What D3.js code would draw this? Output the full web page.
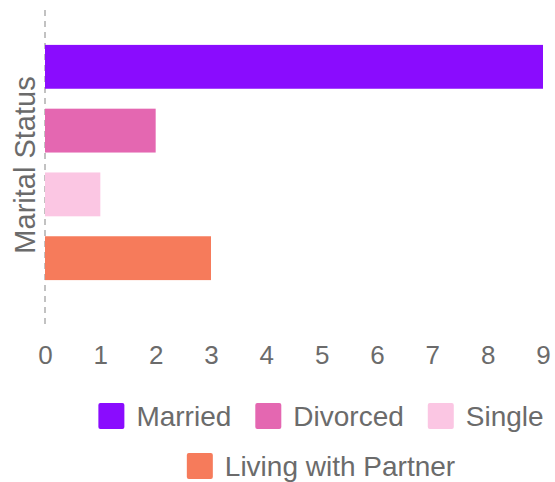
<!DOCTYPE html>
<html>
<head>
<meta charset="utf-8">
<script src="https://cdn.jsdelivr.net/npm/d3@7"></script>
<style>
  body { margin: 0; background: #fff; }
  text { font-family: "Liberation Sans", Arial, sans-serif; fill: #6b6b6b; }
</style>
</head>
<body>
<svg id="viz"></svg>
<script>
const width = 555, height = 482;

// data
const categories = ["Married", "Divorced", "Single", "Living with Partner"];
const counts = [9, 2, 1, 3];
const colors = ["#8a0cfe", "#e467b1", "#fbc6e3", "#f67b5b"];
const xTicks = [0, 1, 2, 3, 4, 5, 6, 7, 8, 9];

const svg = d3.select("#viz")
    .attr("width", width)
    .attr("height", height);

const x = d3.scaleLinear().domain([0, 9]).range([45, 543]);
const y = d3.scaleBand().domain(categories).range([13, 312])
    .paddingInner(0.3125).paddingOuter(0.5);

// dashed axis at zero
svg.append("line")
    .attr("x1", x(0)).attr("x2", x(0))
    .attr("y1", 10).attr("y2", 328)
    .attr("stroke", "#9a9a9a")
    .attr("stroke-width", 1.2)
    .attr("stroke-dasharray", "6,5");

svg.selectAll("rect.bar")
    .data(categories)
    .enter()
        .append("rect")
        .attr("class", "bar")
        .attr("x", x(0))
        .attr("y", d => y(d))
        .attr("width", (d, i) => x(counts[i]) - x(0))
        .attr("height", y.bandwidth())
        .attr("fill", (d, i) => colors[i]);

// x axis labels
const xAxis = d3.axisBottom(x).tickValues(xTicks).tickSize(0).tickPadding(0);
const gx = svg.append("g").attr("transform", "translate(0,346)").call(xAxis);
gx.select(".domain").remove();
gx.selectAll("text")
    .attr("font-size", 26)
    .attr("dy", "0.71em")
    .style("font-family", "Liberation Sans, Arial, sans-serif")
    .attr("fill", "#6b6b6b");

// y title
svg.append("text")
    .attr("transform", "translate(35,165) rotate(-90)")
    .attr("text-anchor", "middle")
    .attr("font-size", 29)
    .text("Marital Status");

// legend, wrapped and centred
const legend = svg.append("g");
const sw = 26, gapText = 12, gapItem = 24, maxW = 455, cx = 321;
const items = categories.map((c, i) => {
    const g = legend.append("g");
    g.append("rect").attr("width", sw).attr("height", sw).attr("rx", 2)
        .attr("fill", colors[i]);
    const t = g.append("text").attr("x", sw + gapText).attr("y", sw / 2)
        .attr("dy", "0.35em").attr("font-size", 28).text(c);
    return { g, w: sw + gapText + t.node().getComputedTextLength() };
});
const rows = [[]];
let rowW = 0;
items.forEach(it => {
    const add = (rows[rows.length - 1].length ? gapItem : 0) + it.w;
    if (rowW + add > maxW && rows[rows.length - 1].length) {
        rows.push([it]); rowW = it.w;
    } else {
        rows[rows.length - 1].push(it); rowW += add;
    }
});
rows.forEach((row, r) => {
    const total = d3.sum(row, d => d.w) + gapItem * (row.length - 1);
    let px = cx - total / 2;
    row.forEach(it => {
        it.g.attr("transform", `translate(${px},${403 + r * 50})`);
        px += it.w + gapItem;
    });
});
</script>
</body>
</html>
